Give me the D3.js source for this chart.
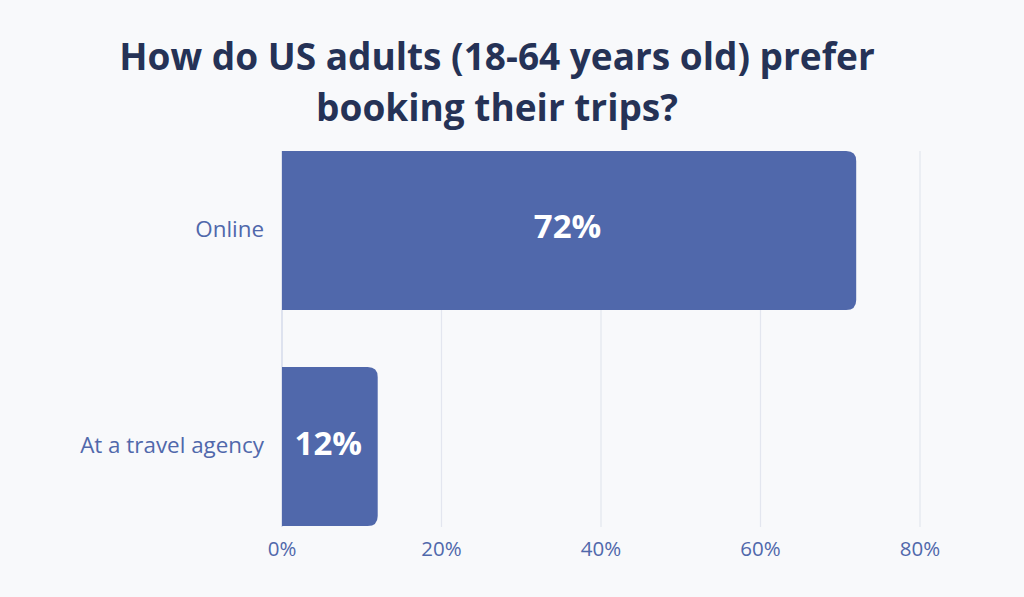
<!DOCTYPE html>
<html><head><meta charset="utf-8">
<script src="https://cdn.jsdelivr.net/npm/d3@7"></script>
<style>html,body{margin:0;padding:0;background:#f8f9fb;}svg{display:block;}</style>
</head><body>
<svg id="c" width="1024" height="597"></svg>
<script>
const categories = ["Online", "At a travel agency"];
const values = [72, 12];
const ticks = [0, 20, 40, 60, 80];
const titleLines = ["How do US adults (18-64 years old) prefer", "booking their trips?"];

const svg = d3.select("#c");
svg.append("rect").attr("width",1024).attr("height",597).attr("fill","#f8f9fb");
const x = d3.scaleLinear().domain([0,80]).range([282,920]);
const y = d3.scaleBand().domain(categories).range([151,526]).paddingInner(0.264).paddingOuter(0);

svg.append("g").selectAll("text").data(titleLines).join("text")
  .attr("x",497).attr("y",(d,i)=>70+i*51).attr("text-anchor","middle")
  .attr("font-family","'Open Sans'").attr("font-weight",700).attr("font-size",37)
  .attr("fill","#253256").text(d=>d);

// grid
svg.append("g").selectAll("line").data(ticks).join("line")
  .attr("x1",d=>x(d)).attr("x2",d=>x(d)).attr("y1",151).attr("y2",527)
  .attr("stroke",d=>d===0?"#cdd3e8":"#e3e6ef").attr("stroke-width",1.2);

const r = 10;
svg.append("g").selectAll("path").data(values).join("path")
  .attr("fill","#5068ab")
  .attr("d",(d,i)=>{
    const x0=x(0), x1=x(d), y0=y(categories[i]), h=y.bandwidth();
    return `M${x0},${y0}H${x1-r}Q${x1},${y0} ${x1},${y0+r}V${y0+h-r}Q${x1},${y0+h} ${x1-r},${y0+h}H${x0}Z`;
  });

svg.append("g").selectAll("text").data(values).join("text")
  .attr("x",d=>(x(0)+x(d))/2 - 1.5).attr("y",(d,i)=>y(categories[i])+y.bandwidth()/2+8)
  .attr("text-anchor","middle")
  .attr("font-family","'Open Sans'").attr("font-weight",700).attr("font-size",33)
  .attr("fill","#ffffff").text(d=>d+"%");

svg.append("g").selectAll("text").data(categories).join("text")
  .attr("x",264).attr("y",d=>y(d)+y.bandwidth()/2+6.5).attr("text-anchor","end")
  .attr("font-family","'Open Sans'").attr("font-size",22.4).attr("fill","#5068ab").text(d=>d);

svg.append("g").selectAll("text").data(ticks).join("text")
  .attr("x",d=>x(d)).attr("y",556).attr("text-anchor","middle")
  .attr("font-family","'Open Sans'").attr("font-size",20.5).attr("fill","#5068ab").text(d=>d+"%");
</script>
</body></html>
